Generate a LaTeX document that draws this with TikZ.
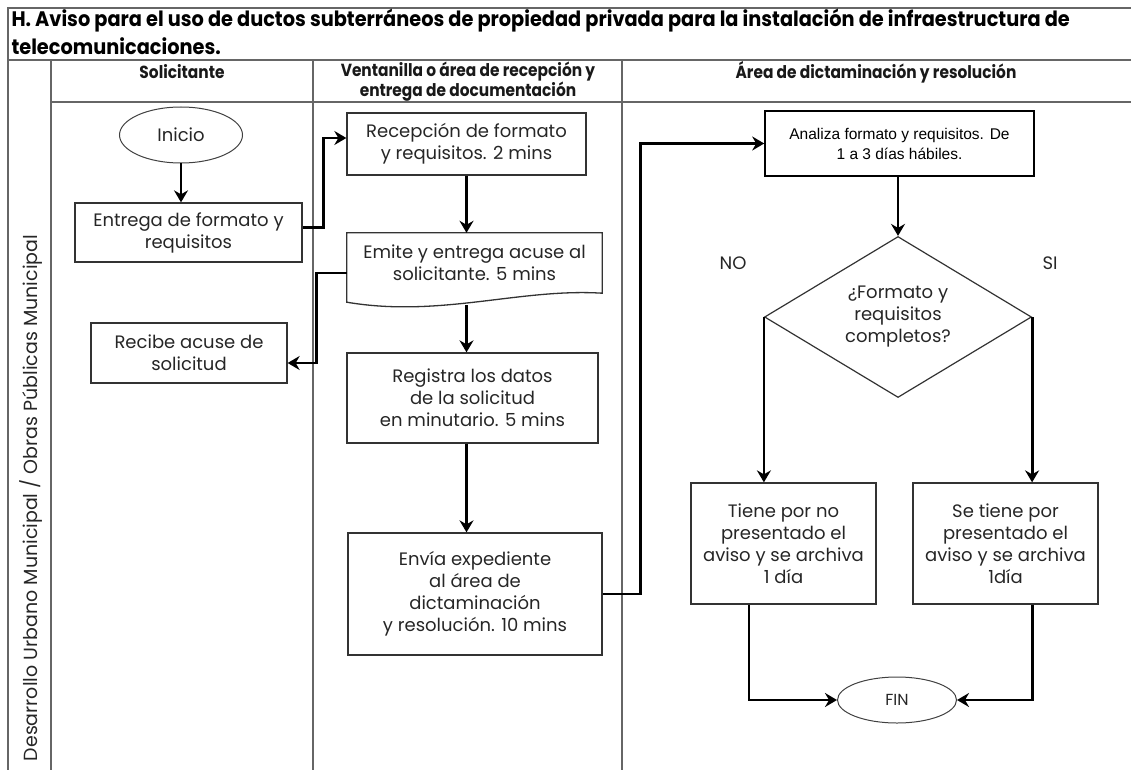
\documentclass[tikz,border=0pt]{standalone}
\usepackage{fontspec}
\setmainfont{Poppins}
\newfontfamily\arialfont{Liberation Sans}
\newfontfamily\narrowfont[FakeStretch=0.92]{Poppins}
\newfontfamily\headfont[FakeStretch=0.88]{Poppins}
\usetikzlibrary{shapes.geometric,arrows.meta}

\begin{document}
\begin{tikzpicture}[x=1pt,y=-1pt,
  every node/.style = {align=center, font=\fontsize{18}{22}\selectfont, text=black!85},
  caja/.style = {shape=rectangle, draw=black!80, line width=1.3pt, inner sep=2pt},
  terminal/.style = {shape=ellipse, draw=black!75, line width=1pt},
  decision/.style = {shape=diamond, draw=black!80, line width=1.2pt, aspect=1.66, inner sep=0pt},
  flecha/.style = {draw=black, line width=2.8pt, line join=miter, -{Stealth[length=12pt,width=14pt,inset=4pt]}},
  linea/.style = {draw=black!60, line width=1.3pt},
  encabezado/.style = {font=\headfont\bfseries\fontsize{17.5}{20}\selectfont, text=black!90}]

  \useasboundingbox (0,0) rectangle (1131,770);

  \draw[linea] (8,770) -- (8,8) -- (1131,8);
  \draw[linea] (8,60) -- (1131,60);
  \draw[linea] (51,102) -- (1131,102);
  \foreach \x in {51,313,622} \draw[linea] (\x,60) -- (\x,770);

  \node[anchor=west, font=\narrowfont\bfseries\fontsize{21}{24}\selectfont, text=black] (titulo) at (8,21)
    {H. Aviso para el uso de ductos subterráneos de propiedad privada para la instalación de infraestructura de};
  \node[anchor=west, font=\narrowfont\bfseries\fontsize{21}{24}\selectfont, text=black] (titulo2) at (8,46)
    {telecomunicaciones.};

  \node[encabezado] (solicitante) at (182,72) {Solicitante};
  \node[encabezado] (ventanilla) at (468,82) {Ventanilla o área de recepción y\\entrega de documentación};
  \node[encabezado] (dictaminacion) at (876,72) {Área de dictaminación y resolución};
  \node[rotate=90, font=\fontsize{19}{22}\selectfont] (dependencia) at (31,498)
    {Desarrollo Urbano Municipal / Obras Públicas Municipal};

  \node[terminal, minimum width=123pt, minimum height=56pt] (inicio) at (181,135) {Inicio};
  \node[caja, minimum width=227pt, minimum height=59pt] (entrega) at (188.5,232.5) {Entrega de formato y\\requisitos};
  \node[caja, minimum width=196pt, minimum height=60pt] (recibe) at (189,353) {Recibe acuse de\\solicitud};

  \node[caja, minimum width=239pt, minimum height=62pt] (recepcion) at (466.5,144) {Recepción de formato\\y requisitos. 2 mins};
  \node[minimum width=255pt, minimum height=60pt] (emite) at (474.5,263) {Emite y entrega acuse al\\solicitante. 5 mins};
  \draw[black!80, line width=1.3pt] ([yshift=-9pt]emite.south west) -- (emite.north west) -- (emite.north east)
    -- (emite.south east) .. controls (520,288) and (440,318) .. ([yshift=-9pt]emite.south west) -- cycle;
  \node[caja, minimum width=251pt, minimum height=90pt] (registra) at (472.5,398) {Registra los datos\\de la solicitud\\en minutario. 5 mins};
  \node[caja, minimum width=254pt, minimum height=122pt] (envia) at (475,594) {Envía expediente\\al área de\\dictaminación\\y resolución. 10 mins};

  \node[caja, draw=black, line width=1.6pt, font=\arialfont\fontsize{15.5}{20}\selectfont, text=black,
    minimum width=269pt, minimum height=65pt] (analiza) at (899.5,143.5) {Analiza formato y requisitos. De\\1 a 3 días hábiles.};
  \node[decision, minimum width=267pt, minimum height=161pt] (completos) at (898,317) {¿Formato y\\requisitos\\completos?};
  \node (no) at (733,263) {NO};
  \node (si) at (1050,263) {SI};
  \node[caja, minimum width=185pt, minimum height=121pt] (tiene) at (783.5,543.5) {Tiene por no\\presentado el\\aviso y se archiva\\1 día};
  \node[caja, minimum width=185pt, minimum height=121pt] (setiene) at (1005.5,543.5) {Se tiene por\\presentado el\\aviso y se archiva\\1día};
  \node[terminal, minimum width=119pt, minimum height=46pt, font=\fontsize{16}{18}\selectfont] (fin) at (897,700) {FIN};

  \draw[flecha] (inicio) -- (inicio |- entrega.north);
  \draw[flecha] ([yshift=5pt]entrega.east) -- ++(21,0) |- ([yshift=6pt]recepcion.west);
  \draw[flecha] (recepcion.south) -- (recepcion.south |- emite.north);
  \draw[flecha] ([yshift=-10pt]emite.west) -- ++(-30,0) |- ([yshift=-10pt]recibe.east);
  \draw[flecha] ([yshift=-12pt]emite.south -| recepcion.south) -- (recepcion.south |- registra.north);
  \draw[flecha] (registra.south -| recepcion.south) -- (recepcion.south |- envia.north);
  \draw[flecha] (envia.east) -- ++(38,0) |- (analiza.west);
  \draw[flecha] (analiza.south -| completos.north) -- (completos.north);
  \draw[flecha] (completos.west) -- (completos.west |- tiene.north);
  \draw[flecha] (completos.east) -- (completos.east |- setiene.north);
  \draw[flecha] ([xshift=-34.5pt]tiene.south) |- (fin.west);
  \draw[flecha] (setiene.south -| completos.east) |- (fin.east);
\end{tikzpicture}
\end{document}
